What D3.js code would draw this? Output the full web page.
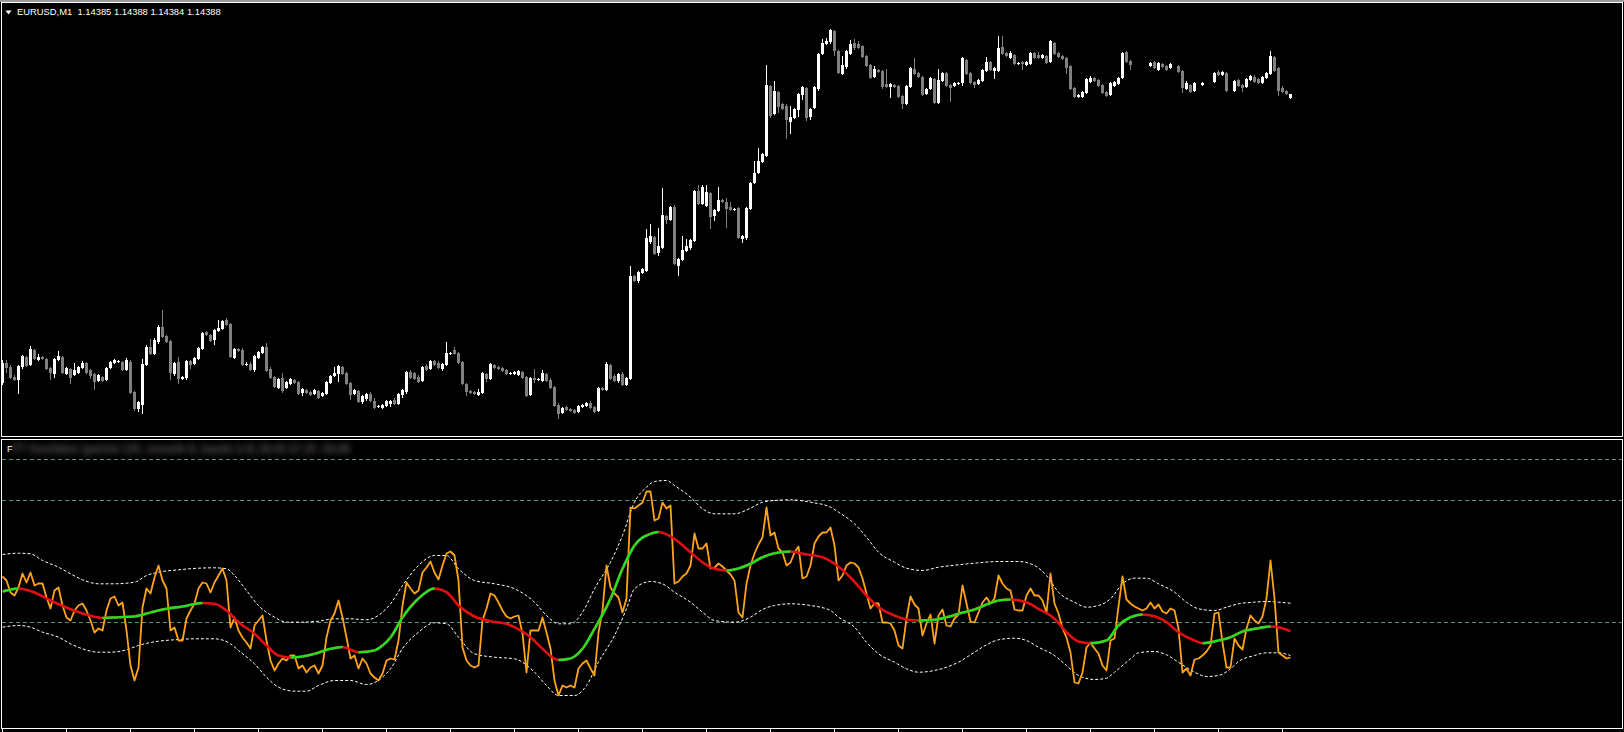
<!DOCTYPE html>
<html><head><meta charset="utf-8">
<script src="https://cdn.jsdelivr.net/npm/d3@7"></script>
<style>html,body{margin:0;padding:0;background:#000;overflow:hidden}</style>
</head><body><svg id="c" width="1624" height="732"></svg>
<script>
// ---------------- data ----------------
const symbol = "EURUSD,M1";
const priceBase = 1.14;            // prices stored as points above 1.14000
// candles (points), null = no bar
const openPts = [
100,119,115,105,103,116,125,118,132,123,
125,123,114,109,123,125,109,113,108,110,
115,119,112,108,102,105,103,115,120,121,
120,113,120,90,74,78,118,135,129,141,
155,146,141,109,120,104,105,121,119,124,
134,150,147,143,152,154,162,158,125,133,
132,118,118,113,125,130,135,113,105,95,
104,95,99,102,100,90,92,90,89,91,
87,89,100,107,109,115,109,99,89,91,
81,84,88,81,76,75,77,79,82,79,
88,91,110,109,105,102,116,114,121,119,
114,118,129,132,129,120,98,91,90,88,
90,108,104,117,115,114,112,109,109,108,
110,105,88,104,103,102,108,102,95,77,
70,75,73,72,71,76,77,79,75,72,
94,93,117,106,102,108,98,104,206,202,
210,212,241,245,230,235,266,263,275,217,
223,232,235,242,291,279,277,289,267,272,
282,280,275,273,274,244,245,274,300,310,
321,327,396,369,390,378,376,361,365,373,
388,394,366,375,394,429,439,441,451,431,
409,416,429,439,438,436,426,417,406,412,
411,398,396,397,396,386,379,396,413,409,
405,389,394,403,380,402,409,397,397,399,
400,422,409,400,399,402,412,420,412,412,
435,429,425,427,419,420,418,419,429,427,
425,426,421,439,429,426,424,416,394,386,
386,390,401,404,402,397,390,388,397,399,
405,430,421,null,null,null,null,417,420,413,
418,416,415,null,416,411,394,397,392,null,
398,null,null,401,410,408,409,null,392,402,
397,396,403,405,403,400,405,409,425,414,
394,391,385];
const highPts = [
122,122,117,107,117,127,126,136,133,128,
126,124,115,124,131,126,115,114,119,116,
121,120,113,109,108,106,115,121,123,122,
121,124,122,91,81,123,137,143,144,157,
172,147,142,120,125,106,122,122,125,135,
150,151,148,153,162,162,164,159,134,134,
134,120,120,127,131,136,139,115,106,104,
109,101,104,103,101,94,93,91,93,92,
90,101,107,115,117,116,110,100,93,92,
87,89,90,84,77,78,82,82,84,89,
93,111,112,110,107,116,118,122,122,121,
119,140,130,135,130,121,99,92,91,93,
110,109,119,118,116,115,113,110,111,112,
111,106,105,113,104,112,109,104,96,79,
75,76,74,73,77,78,80,81,76,95,
95,120,118,108,109,110,105,216,207,211,
214,253,258,246,254,294,267,276,277,224,
246,243,243,292,297,297,297,290,273,295,
283,284,280,274,275,247,275,300,321,334,
329,417,397,401,391,379,378,376,374,389,
396,395,374,396,429,443,444,453,452,432,
426,432,442,443,441,437,427,418,416,413,
412,413,399,398,397,387,397,415,424,410,
406,394,405,404,413,410,410,398,400,400,
425,423,410,401,403,413,425,421,415,446,
446,430,431,428,420,421,421,430,430,430,
428,427,442,440,430,427,425,417,395,388,
391,404,406,405,403,398,391,400,401,405,
430,431,422,null,null,null,null,420,421,420,
419,417,419,null,417,412,401,398,400,null,
400,null,null,410,412,411,410,null,402,403,
398,404,407,407,404,406,410,431,426,415,
396,392,388];
const lowPts = [
98,110,104,102,89,114,116,117,123,122,
123,113,103,105,122,109,108,99,107,109,
114,109,104,93,101,101,102,114,119,120,
112,112,89,72,71,69,117,128,128,139,
145,140,103,107,99,103,103,114,118,123,
133,147,141,138,151,153,157,125,124,131,
117,117,112,111,124,129,111,104,95,94,
90,94,98,99,88,87,89,87,88,84,
86,88,99,106,101,108,98,83,88,80,
79,82,81,74,75,74,76,76,78,78,
85,89,104,103,100,101,112,113,117,114,
112,117,128,128,119,98,87,89,88,87,
89,101,103,114,113,111,108,108,108,107,
104,86,87,100,102,101,101,94,76,64,
69,72,71,69,70,75,76,74,70,71,
92,92,103,101,100,97,97,103,201,200,
209,211,239,228,227,234,259,262,218,207,
222,231,233,241,278,278,276,254,262,271,
280,255,272,272,244,240,243,273,299,309,
320,326,365,368,370,373,344,349,364,366,
383,362,363,374,392,428,438,439,427,409,
408,414,428,433,434,425,416,404,405,410,
394,395,385,395,385,374,378,395,408,405,
387,388,393,379,379,401,396,381,396,398,
397,408,399,395,398,401,411,412,404,411,
428,426,424,418,418,413,417,418,424,424,
424,419,420,428,425,423,409,393,385,385,
385,389,400,401,396,389,386,387,396,398,
404,420,413,null,null,null,null,416,414,412,
415,412,414,null,410,390,393,390,391,null,
397,null,null,400,407,407,391,null,391,396,
391,395,402,400,399,399,404,408,411,387,
390,388,384];
const closePts = [
119,115,105,103,116,126,117,133,124,125,
124,114,110,123,126,110,114,105,112,115,
119,110,107,101,107,102,114,120,122,121,
113,122,90,74,80,118,135,129,142,155,
146,141,110,119,104,105,121,118,124,134,
149,148,142,152,154,161,158,126,133,132,
118,118,113,126,130,135,112,105,96,103,
92,100,103,100,89,93,90,88,92,85,
89,100,106,109,116,109,99,88,92,81,
86,88,82,75,76,77,81,81,79,88,
92,110,105,104,101,115,113,121,118,115,
118,129,129,129,120,99,91,90,89,90,
109,104,118,115,114,112,109,109,110,111,
105,87,104,103,103,109,102,95,77,69,
74,73,72,70,76,77,79,75,71,94,
93,118,104,102,108,98,104,206,202,210,
213,244,246,229,236,267,263,275,219,223,
232,236,242,291,279,295,290,266,272,282,
281,274,273,273,245,246,274,299,309,321,
328,397,367,391,376,374,363,365,373,388,
395,365,373,395,428,439,441,452,432,410,
417,431,438,435,435,426,417,405,413,411,
396,396,398,396,386,379,396,414,409,406,
388,393,404,380,402,409,397,395,399,399,
424,409,400,398,402,412,420,413,414,434,
429,427,429,419,419,419,420,429,425,425,
427,420,441,429,426,424,415,394,386,387,
390,403,404,402,397,390,387,399,400,404,
429,421,418,null,null,null,null,419,415,419,
416,413,418,null,411,395,399,391,399,null,
399,null,null,409,408,410,392,null,401,397,
395,403,406,401,400,405,409,426,412,392,
391,389,388];

// oscillator (indicator units), one value per bar
const oscValues = [
46,42,30,27,35,49,40,50,37,39,
39,25,14,32,35,17,5,2,12,17,
19,12,2,-10,-6,-8,12,24,26,17,
20,-8,-43,-58,-45,15,34,29,45,57,
42,34,-8,-5,-18,-18,4,12,19,34,
40,39,30,40,47,54,42,-5,5,-8,
-15,-20,-26,-3,2,7,-18,-38,-48,-41,
-36,-38,-33,-33,-46,-43,-50,-45,-43,-51,
-43,-15,2,9,22,5,-15,-36,-33,-46,
-36,-41,-51,-55,-58,-51,-38,-36,-37,-18,
17,40,34,29,32,50,55,61,50,43,
57,69,71,67,42,-25,-38,-43,-45,-43,
2,14,29,27,20,12,6,4,6,7,
-11,-50,-8,-8,-8,5,-10,-26,-58,-73,
-63,-65,-63,-65,-46,-41,-38,-46,-53,-10,
12,57,35,29,25,10,24,115,114,117,
120,131,131,102,104,120,114,117,39,41,
46,49,57,89,74,74,79,54,55,59,
56,52,48,42,10,5,39,57,69,78,
85,115,87,90,74,70,57,60,70,76,
44,46,57,79,86,90,90,95,77,42,
47,57,60,59,55,44,29,14,19,19,
0,0,-1,-8,-23,-26,4,26,18,14,
-13,-1,8,-21,7,13,-3,-4,4,8,
37,19,1,0,10,20,25,19,24,47,
39,34,32,13,12,12,27,34,27,27,
22,10,49,19,9,-6,-15,-30,-60,-61,
-50,-25,-20,-26,-31,-43,-48,-18,-16,16,
46,23,19,16,14,12,14,20,14,18,
11,9,14,12,-6,-50,-46,-53,-37,-36,
-33,-29,-23,9,10,-20,-45,-45,-16,-23,
-27,-6,7,2,-1,6,24,62,24,-30,
-33,-36,-35];

// smoothed line, read at these bars
const smoothIdx = [0,4,8,12,16,20,25,29,33,37,41,45,50,53,56,59,63,66,69,72,75,78,82,85,89,93,95,97,100,104,108,111,114,118,122,126,128,132,135,139,142,145,148,152,155,158,162,164,168,172,175,178,181,184,187,190,193,197,201,205,208,212,216,219,223,226,229,233,236,239,243,246,249,252,256,259,263,266,269,272,276,279,282,285,288,291,294,298,300,304,307,310,314,317,319,322];
const smoothVal = [31,34,30,22,15,9,4.5,5.3,6,10,13.7,16,19.5,18.7,12,0.3,-11.3,-23,-33,-35,-34,-31.3,-26.3,-24.5,-29.7,-28,-23,-15,5,24,34,30.3,17,6,1.3,-1.3,-4.7,-14.7,-26.3,-37.5,-36,-26.3,-6.3,23.7,53.7,77,88.7,90.5,83.7,70.3,60.3,53.7,52,54,58.7,65.3,69.3,71,68,65.3,58.7,45,27,15.3,7,3,2,2.7,5.3,8.7,13,18,22,23,20.3,13.7,3.7,-9.7,-19,-20.7,-18,-3,5.3,8,6.3,0.3,-9.7,-18,-20.7,-18,-14.7,-9,-5.7,-4,-4.7,-8.7];

// upper / lower envelope
const upperIdx = [0,4,7,10,14,17,20,24,28,33,36,39,44,49,53,56,58,61,64,68,71,74,79,83,87,91,95,97,100,104,108,111,114,118,123,128,133,136,139,142,145,148,152,155,158,161,163,166,168,172,175,178,183,187,190,193,197,202,207,209,213,216,219,223,226,230,234,239,244,249,254,258,261,264,268,271,274,277,280,283,286,289,293,296,299,303,306,309,313,316,319,322];
const upperVal = [68,69.3,68.7,62,55.3,48.7,42.7,38.7,38.7,40.3,47,50.3,52.7,54.3,54.7,53.7,47,32,17,5.3,0.3,0.3,1.3,3.7,3.7,2.7,10.3,18.7,37,57,67,67,53.7,42,38.7,33.7,20.3,7,-1.3,-1.3,10.3,33.7,60.3,87,120.3,135.3,141,142,137,125.3,113.7,108.7,108.7,114.3,120.3,122,122.7,120.3,115.3,110.3,98.7,85.3,70.3,60.3,54.3,52,55.3,57.7,59.7,61,61,57,47,30.3,20.3,15.3,17,23.7,38.7,44.3,44.3,38.7,30.3,20.3,13.7,12,15.3,18.7,20.3,21,20.3,19.3];
const lowerIdx = [0,4,7,10,14,17,20,24,27,31,34,39,43,48,53,57,59,63,66,69,73,76,79,83,87,91,95,97,100,104,108,111,114,118,123,128,133,136,139,143,146,149,153,156,158,162,165,168,172,175,178,183,187,190,193,197,202,207,209,213,216,219,223,226,229,233,236,239,243,246,249,253,256,259,263,266,269,273,276,278,282,284,288,291,294,298,301,304,307,309,313,316,319,322];
const lowerVal = [-4.7,-3,-4.7,-9.7,-14.7,-21.3,-26.3,-29.7,-29.7,-27.3,-23,-18.7,-17.3,-16.3,-16.3,-21.3,-28,-41.3,-54.7,-64.7,-68.7,-68.7,-63,-58,-58,-62,-54.7,-46.3,-26,-9.7,-0.3,-1.3,-14.7,-31.3,-34.7,-36.3,-49.7,-63,-73,-73,-63,-39.7,-13,13.7,33.7,41,38.7,30.3,20.3,10.3,2,0.3,5.3,13,17,18.7,17,12,5.3,-4.7,-19.7,-31.3,-39.7,-46.3,-49.7,-48,-44.7,-39.7,-29.7,-22.3,-17.3,-15.7,-18,-24.7,-33,-43,-53,-57,-55.7,-49.7,-36.3,-30.3,-29,-32.3,-39.7,-49.7,-54,-53,-46.3,-39,-33,-30.3,-30.3,-33];

const levelValues = [0, 122, 163];
const timeTickBars = [0,16,32,48,64,80,96,112,128,144,160,176,192,208,224,240,256,272,288,304,320];
const indicatorLabel = "FFT Oscillator (period 120, smooth 8, bands 2.0) 18.42 27.15 -34.06";

// ---------------- drawing ----------------
const W = 1624, H = 732;
const svg = d3.select('#c');
const defs = svg.append('defs');

const x  = d3.scaleLinear().domain([0, 322]).range([2.5, 1290.5]);
const yP = d3.scaleLinear().domain([46, 479]).range([436, 3]);
const yI = d3.scaleLinear().domain([-106, 183]).range([728.5, 439.5]);

svg.append('rect').attr('width', W).attr('height', H).attr('fill', '#000');
svg.append('rect').attr('x', 0).attr('y', 0).attr('width', W).attr('height', 2).attr('fill', '#9a9a9a');

defs.append('clipPath').attr('id', 'clipTop').append('rect')
  .attr('x', 2).attr('y', 3).attr('width', 1620).attr('height', 433);
defs.append('clipPath').attr('id', 'clipInd').append('rect')
  .attr('x', 2).attr('y', 440).attr('width', 1620).attr('height', 288);
const rise = defs.append('clipPath').attr('id', 'clipRise');
for (let k = 0; k < smoothIdx.length - 1; k++) {
  if (smoothVal[k + 1] > smoothVal[k]) {
    rise.append('rect').attr('x', x(smoothIdx[k])).attr('y', 440)
      .attr('width', x(smoothIdx[k + 1]) - x(smoothIdx[k])).attr('height', 288);
  }
}
const blur = defs.append('filter').attr('id', 'blur')
  .attr('x', '-5%').attr('y', '-100%').attr('width', '110%').attr('height', '300%');
blur.append('feGaussianBlur').attr('stdDeviation', 3);

// ---- candles ----
const bars = openPts.map((o, i) => ({ i, o, h: highPts[i], l: lowPts[i], c: closePts[i] }))
  .filter(d => d.o != null);
const gc = svg.append('g').attr('clip-path', 'url(#clipTop)').attr('shape-rendering', 'crispEdges');
const col = d => d.c < d.o ? '#808080' : '#ffffff';
gc.selectAll('line.wick').data(bars).join('line').attr('class', 'wick')
  .attr('x1', d => x(d.i)).attr('x2', d => x(d.i))
  .attr('y1', d => yP(d.h)).attr('y2', d => yP(d.l) + 1)
  .attr('stroke', col).attr('stroke-width', 1);
gc.selectAll('rect.body').data(bars).join('rect').attr('class', 'body')
  .attr('x', d => x(d.i) - 1.5).attr('width', 3)
  .attr('y', d => yP(Math.max(d.o, d.c)))
  .attr('height', d => yP(Math.min(d.o, d.c)) - yP(Math.max(d.o, d.c)) + 1)
  .attr('fill', col);

// ---- header ----
const last = bars[bars.length - 1];
const fmt = v => (priceBase + v / 1e5).toFixed(5);
svg.append('path').attr('d', 'M5.5,10.5L11.5,10.5L8.5,14.5Z').attr('fill', '#ffffff');
svg.append('text').attr('x', 17).attr('y', 15)
  .style('white-space', 'pre')
  .attr('font-family', 'Liberation Sans, Arial, sans-serif').attr('font-size', 9.4)
  .attr('fill', '#ffffff')
  .text(symbol + '  ' + [last.o, last.h, last.l, last.c].map(fmt).join(' '));

// ---- indicator ----
const gi = svg.append('g').attr('clip-path', 'url(#clipInd)');
gi.selectAll('line.level').data(levelValues).join('line').attr('class', 'level')
  .attr('x1', 2).attr('x2', 1622).attr('y1', d => yI(d)).attr('y2', d => yI(d))
  .attr('stroke', '#5f8f6c').attr('stroke-width', 1).attr('stroke-dasharray', '4 3')
  .attr('shape-rendering', 'crispEdges');

const bandLine = d3.line().x(d => x(d[0])).y(d => yI(d[1])).curve(d3.curveMonotoneX);
[[upperIdx, upperVal], [lowerIdx, lowerVal]].forEach(([ix, vv]) => {
  gi.append('path').attr('d', bandLine(ix.map((v, k) => [v, vv[k]])))
    .attr('fill', 'none').attr('stroke', '#ffffff').attr('stroke-width', 1)
    .attr('stroke-dasharray', '3 2');
});

gi.append('path')
  .attr('d', d3.line().x((d, i) => x(i)).y(d => yI(d))(oscValues))
  .attr('fill', 'none').attr('stroke', '#ffa418').attr('stroke-width', 1.8)
  .attr('stroke-linejoin', 'round');

const smoothPts = smoothIdx.map((v, k) => [v, smoothVal[k]]);
const smoothD = bandLine(smoothPts);
gi.append('path').attr('d', smoothD).attr('fill', 'none')
  .attr('stroke', '#e01010').attr('stroke-width', 2.6);
gi.append('g').attr('clip-path', 'url(#clipRise)').append('path').attr('d', smoothD)
  .attr('fill', 'none').attr('stroke', '#22e022').attr('stroke-width', 2.6);

// indicator label (blurred in the original)
svg.append('text').attr('x', 12).attr('y', 453)
  .attr('font-family', 'Liberation Sans, Arial, sans-serif').attr('font-size', 13).attr('font-weight', 'bold')
  .attr('textLength', 338).attr('lengthAdjust', 'spacingAndGlyphs')
  .attr('fill', '#5a5a5a').attr('filter', 'url(#blur)').text(indicatorLabel.slice(1));
svg.append('text').attr('x', 7).attr('y', 452)
  .attr('font-family', 'Liberation Sans, Arial, sans-serif').attr('font-size', 9)
  .attr('fill', '#ffffff').text(indicatorLabel.charAt(0));

// ---- frames ----
svg.append('rect').attr('x', 1.5).attr('y', 2.5).attr('width', 1621).attr('height', 434)
  .attr('fill', 'none').attr('stroke', '#ffffff').attr('shape-rendering', 'crispEdges');
svg.append('rect').attr('x', 1.5).attr('y', 439.5).attr('width', 1621).attr('height', 289)
  .attr('fill', 'none').attr('stroke', '#ffffff').attr('shape-rendering', 'crispEdges');

// ---- time ticks ----
const ax = svg.append('g').attr('transform', 'translate(0,729)')
  .call(d3.axisBottom(x).tickValues(timeTickBars).tickSize(4).tickFormat(() => '').offset(0));
ax.select('.domain').remove();
ax.selectAll('line').attr('stroke', '#ffffff').attr('shape-rendering', 'crispEdges');
</script></body></html>
